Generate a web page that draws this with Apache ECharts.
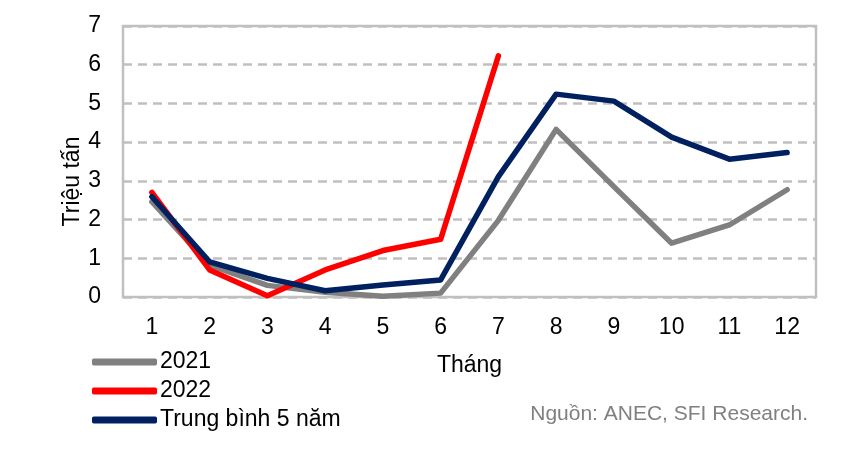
<!DOCTYPE html>
<html>
<head>
<meta charset="utf-8">
<script src="https://cdn.jsdelivr.net/npm/echarts@6/dist/echarts.min.js"></script>
<style>
  html, body { margin: 0; padding: 0; background: #fff; }
  #chart-container { width: 864px; height: 464px; }
</style>
</head>
<body>
<div id="chart-container"></div>
<script>
// dữ liệu
var months = ['1', '2', '3', '4', '5', '6', '7', '8', '9', '10', '11', '12'];
var y2021 = [2.46, 0.82, 0.3, 0.12, 0.02, 0.1, 1.98, 4.33, 2.85, 1.39, 1.86, 2.77];
var y2022 = [2.7, 0.7, 0.03, 0.7, 1.2, 1.49, 6.23];
var avg5y = [2.59, 0.91, 0.48, 0.16, 0.31, 0.44, 3.11, 5.24, 5.06, 4.13, 3.56, 3.73];
var yTicks = [0, 7, 1]; // min, max, interval

var dom = document.getElementById('chart-container');
var myChart = echarts.init(dom, null, { renderer: 'canvas' });

var font = 'Liberation Sans';

function lineSeries(name, data, color) {
  return {
    name: name,
    type: 'line',
    data: data,
    symbol: 'none',
    lineStyle: { width: 5.5, color: color, cap: 'round', join: 'round' },
    itemStyle: { color: color },
    animation: false
  };
}

var option = {
  textStyle: { fontFamily: font },
  grid: {
    left: 123, right: 48, top: 26, bottom: 167,
    show: true,
    borderColor: '#c0c0c0',
    borderWidth: 2.5
  },
  legend: {
    orient: 'vertical',
    left: 87,
    top: 345,
    itemWidth: 65,
    itemHeight: 7,
    itemGap: 5,
    icon: 'roundRect',
    textStyle: { fontFamily: font, fontSize: 23, lineHeight: 24, color: '#000', padding: [0, 0, 0, -2] },
    data: ['2021', '2022', 'Trung bình 5 năm']
  },
  xAxis: {
    type: 'category',
    data: months,
    boundaryGap: true,
    axisLine: { show: false },
    axisTick: { show: false },
    axisLabel: { fontSize: 23, color: '#000', margin: 19, fontFamily: font },
    name: 'Tháng',
    nameLocation: 'middle',
    nameGap: 57,
    nameTextStyle: { fontSize: 23, color: '#000', fontFamily: font }
  },
  yAxis: {
    type: 'value',
    min: yTicks[0],
    max: yTicks[1],
    interval: yTicks[2],
    axisLine: { show: false },
    axisTick: { show: false },
    axisLabel: { fontSize: 23, color: '#000', margin: 22, fontFamily: font },
    splitLine: { lineStyle: { color: '#c0c0c0', type: [9, 6], width: 2.5 } },
    name: 'Triệu tấn',
    nameLocation: 'middle',
    nameRotate: 90,
    nameGap: 39,
    nameMoveOverlap: false,
    nameTextStyle: { fontSize: 23, color: '#000', fontFamily: font, padding: [0, 40, 0, 0] }
  },
  graphic: [{
    type: 'text',
    right: 56,
    top: 404,
    style: { text: 'Nguồn: ANEC, SFI Research.', fill: '#808080', fontSize: 21, fontFamily: font }
  }],
  series: [
    lineSeries('2021', y2021, '#808080'),
    lineSeries('2022', y2022, '#ff0000'),
    lineSeries('Trung bình 5 năm', avg5y, '#002060')
  ]
};

myChart.setOption(option);
</script>
</body>
</html>
